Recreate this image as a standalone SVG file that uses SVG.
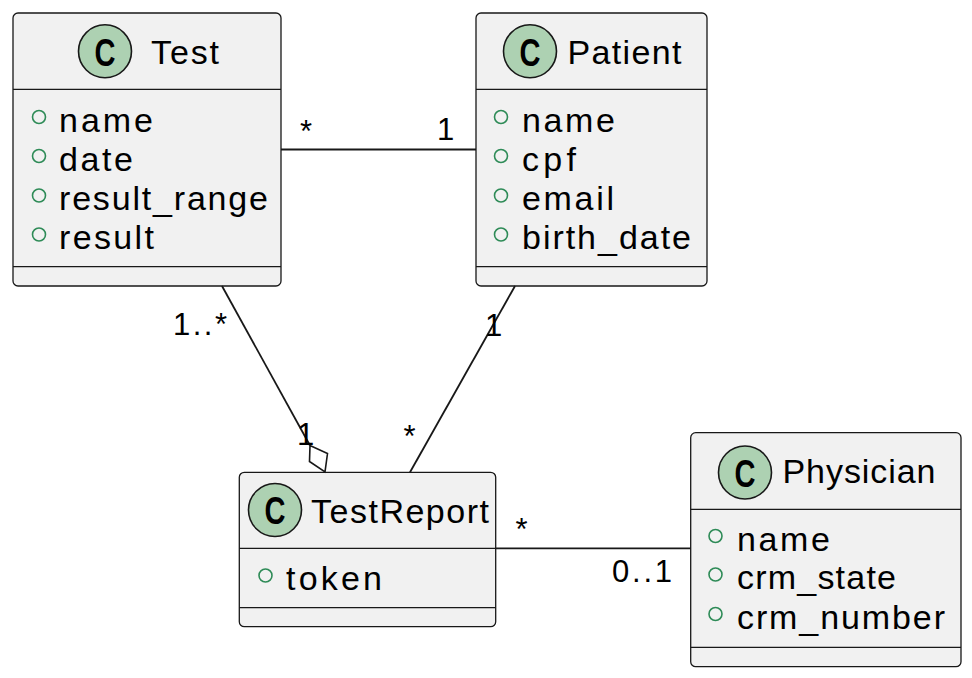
<svg xmlns="http://www.w3.org/2000/svg" width="972" height="678" viewBox="0 0 972 678">
<style>
.box{fill:#F1F1F1;stroke:#181818;stroke-width:1.3}
.div{stroke:#181818;stroke-width:1.2}
.ic{fill:#ADD1B2;stroke:#181818;stroke-width:1.6}
.icl{font-family:"Liberation Sans",Arial,sans-serif;font-weight:bold;font-size:39px;fill:#000}
.cn{font-family:"Liberation Sans",Arial,sans-serif;font-size:34px;fill:#000}
.at{font-family:"Liberation Sans",Arial,sans-serif;font-size:34px;fill:#000}
.pub{fill:none;stroke:#2E8B57;stroke-width:1.6}
.lbl{font-family:"Liberation Sans",Arial,sans-serif;font-size:31px;fill:#000}
.ln{stroke:#181818;stroke-width:1.8;fill:none}
</style>
<rect width="972" height="678" fill="#FFFFFF"/>
<g id="Test">
<rect class="box" x="13" y="13" width="268" height="273" rx="5"/>
<circle class="ic" cx="105" cy="51.3" r="26.5"/>
<text class="icl" x="105" y="65.5" text-anchor="middle" textLength="21" lengthAdjust="spacingAndGlyphs">C</text>
<text class="cn" x="151" y="64" textLength="68" lengthAdjust="spacing">Test</text>
<line class="div" x1="13" y1="89.3" x2="281" y2="89.3"/>
<circle class="pub" cx="39" cy="117" r="6.5"/>
<text class="at" x="59" y="131.7" textLength="94" lengthAdjust="spacing">name</text>
<circle class="pub" cx="39" cy="156" r="6.5"/>
<text class="at" x="59" y="170.7" textLength="74" lengthAdjust="spacing">date</text>
<circle class="pub" cx="39" cy="195.5" r="6.5"/>
<text class="at" x="59" y="210.2" textLength="209" lengthAdjust="spacing">result_range</text>
<circle class="pub" cx="39" cy="234.5" r="6.5"/>
<text class="at" x="59" y="249.2" textLength="95" lengthAdjust="spacing">result</text>
<line class="div" x1="13" y1="266.7" x2="281" y2="266.7"/>
</g>
<g id="Patient">
<rect class="box" x="476" y="13" width="231" height="273" rx="5"/>
<circle class="ic" cx="530" cy="51.3" r="26.5"/>
<text class="icl" x="530" y="65.5" text-anchor="middle" textLength="21" lengthAdjust="spacingAndGlyphs">C</text>
<text class="cn" x="567.5" y="63.5" textLength="114" lengthAdjust="spacing">Patient</text>
<line class="div" x1="476" y1="89.3" x2="707" y2="89.3"/>
<circle class="pub" cx="501" cy="117" r="6.5"/>
<text class="at" x="522" y="131.7" textLength="93" lengthAdjust="spacing">name</text>
<circle class="pub" cx="501" cy="156" r="6.5"/>
<text class="at" x="522" y="170.7" textLength="54" lengthAdjust="spacing">cpf</text>
<circle class="pub" cx="501" cy="195.5" r="6.5"/>
<text class="at" x="522" y="210.2" textLength="92" lengthAdjust="spacing">email</text>
<circle class="pub" cx="501" cy="234.5" r="6.5"/>
<text class="at" x="522" y="249.2" textLength="169" lengthAdjust="spacing">birth_date</text>
<line class="div" x1="476" y1="266.7" x2="707" y2="266.7"/>
</g>
<g id="TestReport">
<rect class="box" x="239.3" y="472.3" width="256.4" height="154.4" rx="5"/>
<circle class="ic" cx="275" cy="510" r="26.5"/>
<text class="icl" x="275" y="524.2" text-anchor="middle" textLength="21" lengthAdjust="spacingAndGlyphs">C</text>
<text class="cn" x="311" y="522.7" textLength="178" lengthAdjust="spacing">TestReport</text>
<line class="div" x1="239.3" y1="548.3" x2="495.7" y2="548.3"/>
<circle class="pub" cx="265.5" cy="575.5" r="6.5"/>
<text class="at" x="286" y="590" textLength="96" lengthAdjust="spacing">token</text>
<line class="div" x1="239.3" y1="607.7" x2="495.7" y2="607.7"/>
</g>
<g id="Physician">
<rect class="box" x="690.7" y="432.7" width="270.3" height="234" rx="5"/>
<circle class="ic" cx="745" cy="472.5" r="26.5"/>
<text class="icl" x="745" y="486.7" text-anchor="middle" textLength="21" lengthAdjust="spacingAndGlyphs">C</text>
<text class="cn" x="782.5" y="483.3" textLength="153" lengthAdjust="spacing">Physician</text>
<line class="div" x1="690.7" y1="509.3" x2="961" y2="509.3"/>
<circle class="pub" cx="715.5" cy="536" r="6.5"/>
<text class="at" x="737" y="550.5" textLength="93" lengthAdjust="spacing">name</text>
<circle class="pub" cx="715.5" cy="574.5" r="6.5"/>
<text class="at" x="737" y="589" textLength="159" lengthAdjust="spacing">crm_state</text>
<circle class="pub" cx="715.5" cy="614" r="6.5"/>
<text class="at" x="737" y="628.5" textLength="208" lengthAdjust="spacing">crm_number</text>
<line class="div" x1="690.7" y1="647.3" x2="961" y2="647.3"/>
</g>
<g id="connectors">
<line class="ln" x1="281" y1="149.5" x2="476" y2="149.5"/>
<text class="lbl" x="300" y="141.5">*</text>
<text class="lbl" x="437" y="140">1</text>
<line class="ln" x1="222" y1="286" x2="310" y2="445.5"/>
<polygon points="325,471.8 327.5,453.5 310,445.5 309.5,461.5" fill="#FFFFFF" stroke="#181818" stroke-width="1.6"/>
<text class="lbl" x="173" y="335" textLength="54" lengthAdjust="spacing">1..*</text>
<text class="lbl" x="297" y="445">1</text>
<line class="ln" x1="515" y1="286" x2="410" y2="472.3"/>
<text class="lbl" x="485" y="335.5">1</text>
<text class="lbl" x="403.5" y="446.5">*</text>
<line class="ln" x1="495.7" y1="548.3" x2="690.7" y2="548.3"/>
<text class="lbl" x="515.5" y="539.5">*</text>
<text class="lbl" x="612" y="582" textLength="60" lengthAdjust="spacing">0..1</text>
</g>
</svg>
